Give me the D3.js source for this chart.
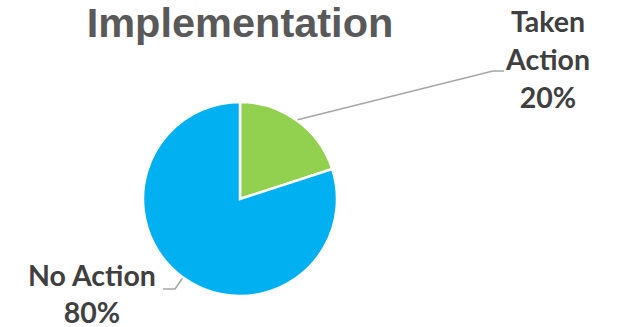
<!DOCTYPE html>
<html><head><meta charset="utf-8">
<script src="https://cdn.jsdelivr.net/npm/d3@7"></script>
<style>html,body{margin:0;padding:0;background:#fff;}</style>
</head><body>
<svg id="c" width="619" height="327"></svg>
<script>
const categories = ["Taken Action", "No Action"];
const values = [20, 80];
const colors = ["#92D050", "#00B0F0"];
const labelLines = [["Taken", "Action", "20%"], ["No Action", "80%"]];
const title = "Implementation";

const W = 619, H = 327;
const cx = 240, cy = 199, R = 97;
const svg = d3.select("#c");

svg.append("text").attr("x", cx).attr("y", 37).attr("text-anchor", "middle")
  .attr("font-family", "Liberation Sans, Arial, sans-serif").attr("font-weight", "bold")
  .attr("font-size", 41.5).attr("fill", "#595959").text(title);

const pie = d3.pie().sort(null).value(d => d)(values);
const arc = d3.arc().innerRadius(0).outerRadius(R);
const g = svg.append("g").attr("transform", `translate(${cx},${cy})`);
g.selectAll("path").data(pie).join("path")
  .attr("d", arc).attr("fill", (d, i) => colors[i])
  .attr("stroke", "#fff").attr("stroke-width", 2.5).attr("stroke-linejoin", "miter");

function edgePoint(d) {
  const a = (d.startAngle + d.endAngle) / 2;
  return [cx + (R + 1) * Math.sin(a), cy - (R + 1) * Math.cos(a)];
}
const labelCfg = [
  { elbow: [493, 71], end: [504, 71], x: 548, y0: 32, dy: 38 },
  { elbow: [175, 289], end: [163, 289], x: 92, y0: 286, dy: 37 }
];
pie.forEach((d, i) => {
  const p = edgePoint(d), c = labelCfg[i];
  svg.append("path").attr("d", d3.line()([p, c.elbow, c.end]))
    .attr("fill", "none").attr("stroke", "#A6A6A6").attr("stroke-width", 1.5);
  const t = svg.append("text").attr("text-anchor", "middle")
    .attr("font-family", "Lato, 'Open Sans', sans-serif").attr("font-weight", "bold")
    .attr("font-size", 28.5).attr("fill", "#404040");
  labelLines[i].forEach((ln, k) => {
    t.append("tspan").attr("x", c.x).attr("y", c.y0 + k * c.dy).text(ln);
  });
});
</script>
</body></html>
